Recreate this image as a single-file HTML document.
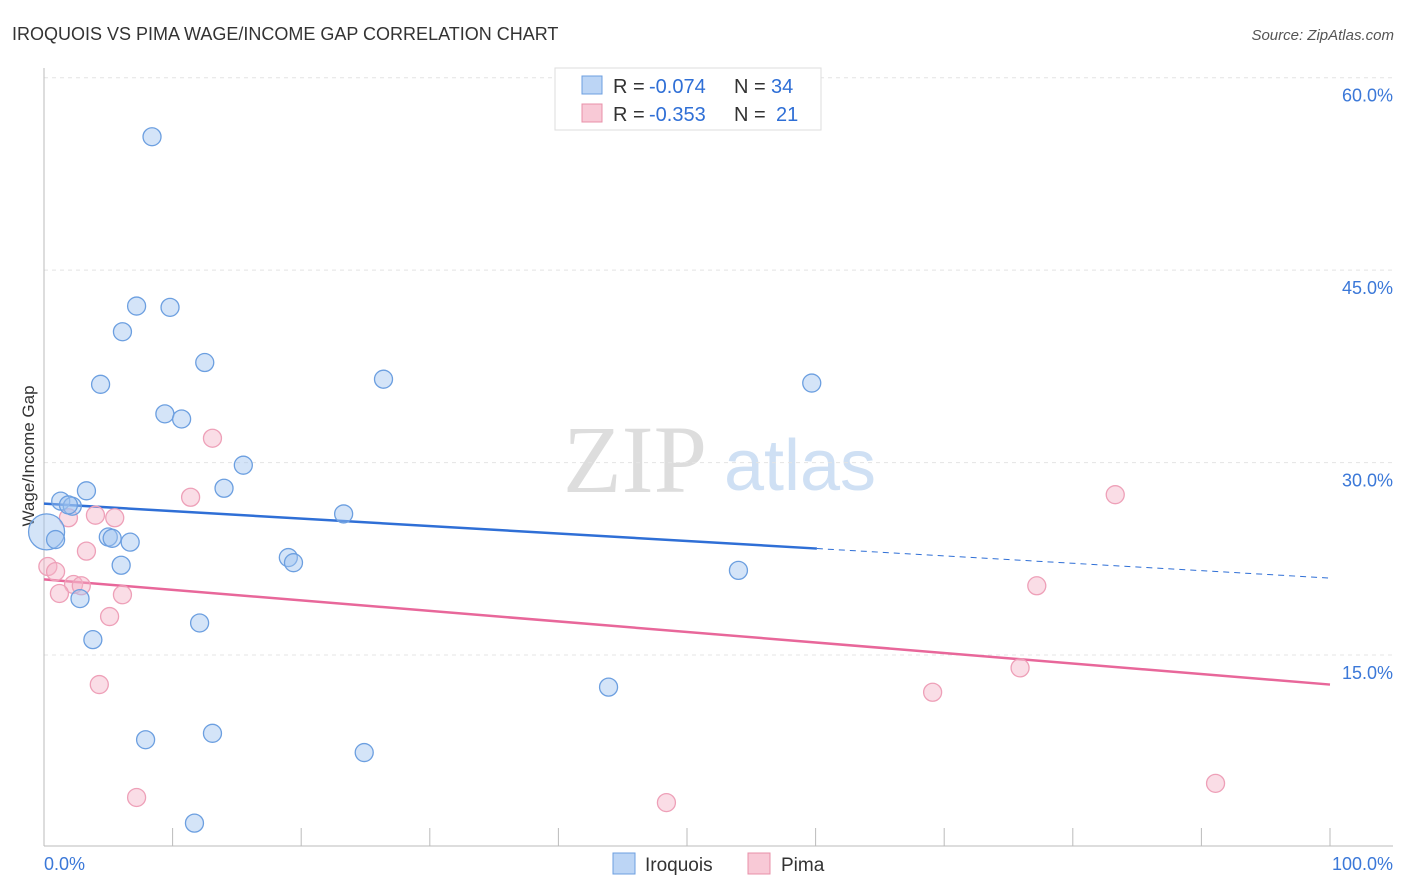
<!DOCTYPE html>
<html><head><meta charset="utf-8"><style>
body{margin:0;background:#fff;font-family:"Liberation Sans",sans-serif}
svg{display:block}
</style></head><body>
<svg id="chart" width="1406" height="892">
<text x="12" y="40" font-size="18" fill="#333">IROQUOIS VS PIMA WAGE/INCOME GAP CORRELATION CHART</text>
<text x="1394" y="40" font-size="15" fill="#555" font-style="italic" text-anchor="end">Source: ZipAtlas.com</text>
<text x="635" y="492" font-size="96" fill="#ddd" font-family="Liberation Serif" text-anchor="middle">ZIP</text>
<text x="800" y="490" font-size="72" fill="#cfe0f4" text-anchor="middle">atlas</text>
<text transform="translate(34,456) rotate(-90)" font-size="17" fill="#333" text-anchor="middle">Wage/Income Gap</text>
<g id="grid"></g><g id="axes"></g><g id="trend"></g><g id="pts"></g>
<g>
<rect x="555" y="68" width="266" height="62" fill="#fff" stroke="#ddd"/>
<rect x="582" y="76" width="20" height="18" fill="#bcd5f5" stroke="#6c9fe0"/>
<text x="613" y="93" font-size="20" fill="#333">R =</text>
<text x="649" y="93" font-size="20" fill="#2f6fd6">-0.074</text>
<text x="734" y="93" font-size="20" fill="#333">N =</text>
<text x="771" y="93" font-size="20" fill="#2f6fd6">34</text>
<rect x="582" y="104" width="20" height="18" fill="#f8c9d6" stroke="#e890a8"/>
<text x="613" y="121" font-size="20" fill="#333">R =</text>
<text x="649" y="121" font-size="20" fill="#2f6fd6">-0.353</text>
<text x="734" y="121" font-size="20" fill="#333">N =</text>
<text x="776" y="121" font-size="20" fill="#2f6fd6">21</text>
</g>
<g>
<rect x="613" y="853" width="22" height="21" fill="#bcd5f5" stroke="#6c9fe0"/>
<text x="645" y="871" font-size="19" fill="#333">Iroquois</text>
<rect x="748" y="853" width="22" height="21" fill="#f8c9d6" stroke="#e890a8"/>
<text x="781" y="871" font-size="19" fill="#333">Pima</text>
</g>
<text x="44" y="870" font-size="18" fill="#3b78d8">0.0%</text>
<text x="1393" y="870" font-size="18" fill="#3b78d8" text-anchor="end">100.0%</text>
</svg>
<script>
const yTicks=[15,30,45,60];
const iroqX=[8.4,7.2,9.8,6.1,12.5,4.4,26.4,59.7,9.4,10.7,15.5,14.0,3.3,1.3,2.2,1.9,23.3,0.2,0.9,5.0,5.3,6.7,19.0,19.4,6.0,54.0,2.8,12.1,3.8,43.9,13.1,7.9,24.9,11.7];
const iroqY=[55.4,42.2,42.1,40.2,37.8,36.1,36.5,36.2,33.8,33.4,29.8,28.0,27.8,27.0,26.6,26.7,26.0,24.6,24.0,24.2,24.1,23.8,22.6,22.2,22.0,21.6,19.4,17.5,16.2,12.5,8.9,8.4,7.4,1.9];
const iroqR=[9,9,9,9,9,9,9,9,9,9,9,9,9,9,9,9,9,18,9,9,9,9,9,9,9,9,9,9,9,9,9,9,9,9];
const pimaX=[13.1,11.4,83.3,4.0,1.9,5.5,3.3,0.3,0.9,2.3,2.9,1.2,6.1,77.2,5.1,4.3,75.9,69.1,7.2,48.4,91.1];
const pimaY=[31.9,27.3,27.5,25.9,25.7,25.7,23.1,21.9,21.5,20.5,20.4,19.8,19.7,20.4,18.0,12.7,14.0,12.1,3.9,3.5,5.0];
const trendBlue=[26.8,23.3,21.0], trendPink=[20.9,12.7];
const NS="http://www.w3.org/2000/svg";
const X=v=>44+v*12.86, Y=v=>847.5-v*12.83;
function mk(p,t,a){const e=document.createElementNS(NS,t);for(const k in a)e.setAttribute(k,a[k]);p.appendChild(e);return e;}
const grid=document.getElementById('grid');
yTicks.forEach(t=>{
 const l=mk(grid,'line',{x1:44,x2:1393,y1:Y(t),y2:Y(t),stroke:'#e4e4e4','stroke-dasharray':'4,4'});
 
 
 const tx=mk(grid,'text',{x:1393,y:Y(t)+24,'font-size':18,fill:'#3b78d8','text-anchor':'end'});
 tx.textContent=t.toFixed(1)+'%';
 
 
});
const ax=document.getElementById('axes');
const la=mk(ax,'line',{x1:44,x2:44,y1:68,y2:846,stroke:'#bbb'});


const ba=mk(ax,'line',{x1:44,x2:1393,y1:846,y2:846,stroke:'#bbb'});


for(let i=0;i<=10;i++){const t=mk(ax,'line',{x1:X(i*10),x2:X(i*10),y1:828,y2:846,stroke:'#bbb'});
 
 }
const tr=document.getElementById('trend');
let e=mk(tr,'line',{x1:X(0),y1:Y(trendBlue[0]),x2:X(60.1),y2:Y(trendBlue[1]),stroke:'#2f6fd6','stroke-width':2.5});


e=mk(tr,'line',{x1:X(60.1),y1:Y(trendBlue[1]),x2:X(100),y2:Y(trendBlue[2]),stroke:'#2f6fd6','stroke-width':1,'stroke-dasharray':'6,5'});


e=mk(tr,'line',{x1:X(0),y1:Y(trendPink[0]),x2:X(100),y2:Y(trendPink[1]),stroke:'#e8679a','stroke-width':2.5});


const pts=document.getElementById('pts');
pimaX.forEach((x,i)=>{const c=mk(pts,'circle',{cx:X(x),cy:Y(pimaY[i]),r:9,fill:'rgba(245,180,200,0.45)',stroke:'#eea0b8','stroke-width':1.3});
 
 });
iroqX.forEach((x,i)=>{const c=mk(pts,'circle',{cx:X(x),cy:Y(iroqY[i]),r:iroqR[i],fill:'rgba(160,195,240,0.45)',stroke:'#6c9fe0','stroke-width':1.3});
 
 });
</script>
</body></html>
